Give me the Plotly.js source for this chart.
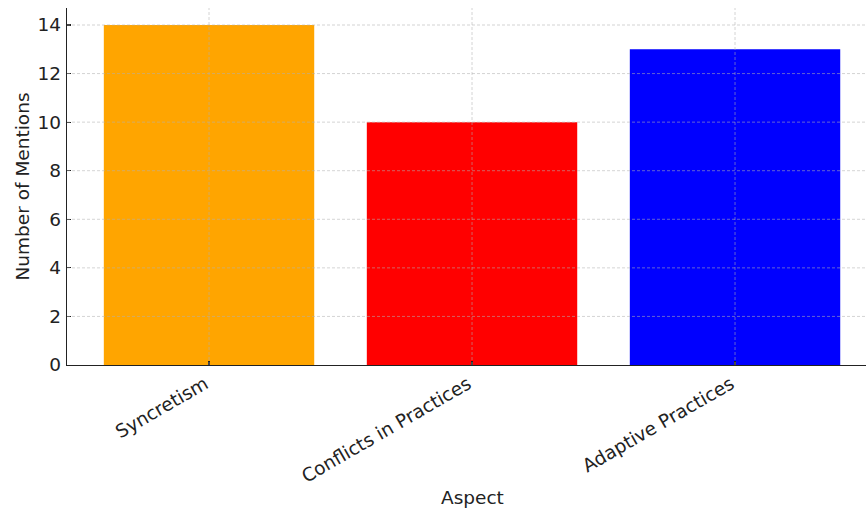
<!DOCTYPE html>
<html>
<head>
<meta charset="utf-8">
<script src="https://cdn.plot.ly/plotly-3.0.1.min.js"></script>
<style>html,body{margin:0;padding:0;background:#fff;}</style>
</head>
<body>
<div id="chart" style="width:866px;height:511px;"></div>
<script>
const categories = ["Syncretism", "Conflicts in Practices", "Adaptive Practices"];
const mentions = [14, 10, 13];
const barColors = ["orange", "red", "blue"];
const yTicks = [0, 2, 4, 6, 8, 10, 12, 14];

const font = {family: "DejaVu Sans", size: 18.5, color: "#222"};
const gridStyle = {color: "rgba(176,176,176,0.55)", width: 1, dash: "3px,2px"};

const xIdx = categories.map((c, i) => i);
const gridShapes = [];
xIdx.forEach(i => gridShapes.push({type: "line", layer: "above", xref: "x", yref: "paper", x0: i, x1: i, y0: 0, y1: 1, line: gridStyle}));
yTicks.filter(v => v > 0).forEach(v => gridShapes.push({type: "line", layer: "above", xref: "paper", yref: "y", x0: 0, x1: 1, y0: v, y1: v, line: gridStyle}));

Plotly.newPlot("chart", [{
  type: "bar",
  x: xIdx,
  y: mentions,
  width: 0.8,
  marker: {color: barColors, line: {width: 0}},
  hoverinfo: "skip"
}], {
  width: 866, height: 511,
  margin: {l: 67, r: 0, t: 8, b: 146},
  paper_bgcolor: "#fff", plot_bgcolor: "#fff",
  font: font,
  showlegend: false,
  shapes: gridShapes,
  annotations: [{
    text: "Aspect", xref: "paper", yref: "paper", x: 0.507, y: -0.372,
    xanchor: "center", yanchor: "middle", showarrow: false, font: font
  }],
  xaxis: {
    range: [-0.54, 2.498],
    tickvals: xIdx,
    ticktext: categories,
    tickangle: -30,
    ticks: "inside", ticklen: 4, tickwidth: 1.2, tickcolor: "#222",
    ticklabelshift: -4,
    showline: true, linecolor: "#222", linewidth: 1.2,
    showgrid: false,
    zeroline: false,
    layer: "above traces",
    tickfont: font
  },
  yaxis: {
    range: [0, 14.7],
    tickvals: yTicks,
    ticks: "inside", ticklen: 4, tickwidth: 1.2, tickcolor: "#222",
    ticklabelstandoff: 1,
    showline: true, linecolor: "#222", linewidth: 1.2,
    showgrid: false,
    zeroline: false,
    layer: "above traces",
    tickfont: font,
    title: {text: "Number of Mentions", font: font, standoff: 3}
  }
}, {displayModeBar: false, staticPlot: true});
</script>
</body>
</html>
